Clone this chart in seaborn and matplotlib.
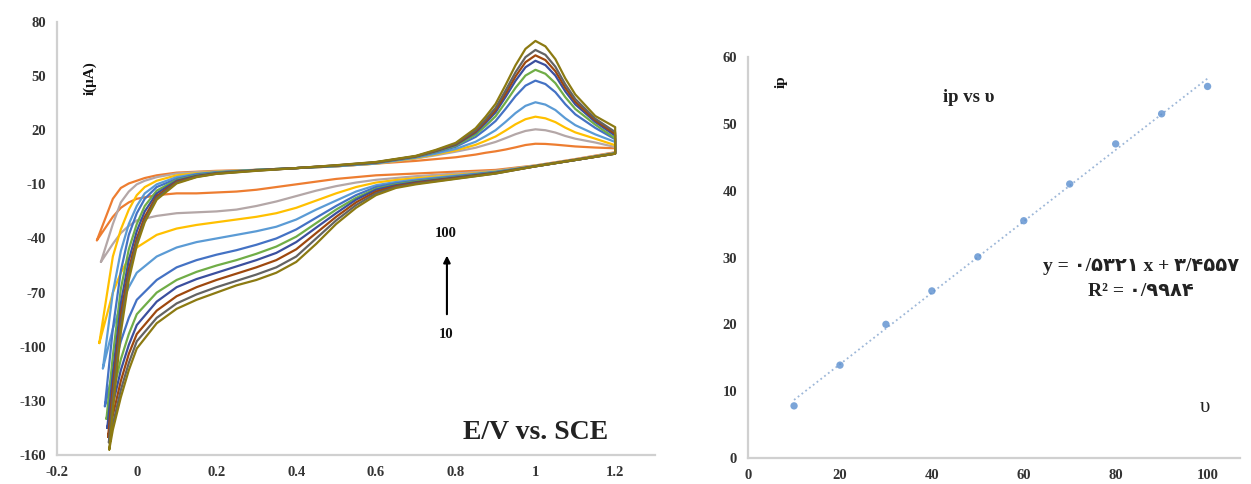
import numpy as np
import pandas as pd
import matplotlib
matplotlib.use("Agg")
import matplotlib.pyplot as plt
import seaborn as sns

# ---------------- data ----------------
scan_rates = [10, 20, 30, 40, 50, 60, 70, 80, 90, 100]
curve_colors = ["#ED7D31", "#B4A7A7", "#FFC000", "#5B9BD5", "#4472C4",
                "#70AD47", "#3B4F9E", "#9E480E", "#636363", "#8C7A12"]

vertex_E = [-0.100, -0.090, -0.094, -0.085, -0.080, -0.076, -0.074, -0.072, -0.070, -0.069]
vertex_i = [-41, -53, -98, -112, -133, -140, -145, -150, -153, -157]

fwd_E = [-0.06, -0.04, -0.02, 0.0, 0.02, 0.05, 0.1, 0.15, 0.2, 0.3, 0.4, 0.5, 0.6, 0.7, 0.75,
         0.8, 0.85, 0.875, 0.9, 0.925, 0.95, 0.975, 1.0, 1.025, 1.05, 1.075, 1.1, 1.15, 1.2]
fwd_010 = [-18, -12, -9.5, -8, -6.5, -5, -3.5, -3, -2.5, -2, -1, 0, 1.5,
           3, 4, 5, 6.5, 7.5, 8.3, 9.3, 10.5, 11.8, 12.5, 12.4, 12, 11.5, 11, 10.4, 10]
fwd_020 = [-32, -20, -14, -10, -8, -6, -4, -3.2, -2.8, -2, -1, 0, 1.5,
           4.3, 6.1, 8.1, 10.3, 11.9, 13.5, 15.6, 17.8, 19.6, 20.5, 20, 18.7, 16.8, 15.3, 13.2, 10.7]
fwd_030 = [-50, -35, -24, -16, -11.5, -8, -5, -3.8, -3, -2, -1, 0, 1.5,
           4.5, 6.6, 8.8, 11.9, 14.1, 16.5, 19.8, 23.3, 26.1, 27.5, 26.6, 24.5, 21.4, 18.8, 15.3, 11.7]
fwd_040 = [-70, -47, -32, -22, -15, -10, -6, -4.2, -3.2, -2, -1, 0, 1.6,
           4.8, 7, 9.6, 13.6, 16.7, 20, 24.6, 29.5, 33.5, 35.5, 34.2, 31.2, 26.6, 22.8, 17.7, 13.5]
fwd_050 = [-90, -58, -38, -26, -18, -11.5, -7, -4.5, -3.4, -2, -1, 0.2, 1.8,
           5.1, 7.8, 10.8, 16.3, 20.5, 25.1, 31.8, 38.9, 44.7, 47.5, 45.6, 41.1, 34.4, 28.8, 21.3, 15]
fwd_060 = [-105, -68, -46, -32, -22, -13.5, -7.5, -5, -3.6, -2, -1, 0.3, 2,
           5.3, 8.1, 11.4, 17.6, 22.4, 27.7, 35.4, 43.5, 50.3, 53.5, 51.3, 46.1, 38.3, 31.8, 23.1, 15.5]
fwd_070 = [-115, -76, -52, -36, -25, -15, -8, -5.3, -3.8, -2.2, -1, 0.4, 2.1,
           5.5, 8.4, 11.9, 18.7, 24, 29.9, 38.4, 47.4, 54.9, 58.5, 56.1, 50.3, 41.5, 34.3, 24.6, 17]
fwd_080 = [-122, -82, -57, -40, -28, -16.5, -8.5, -5.6, -4, -2.3, -1, 0.5, 2.2,
           5.5, 8.6, 12.2, 19.3, 25, 31.1, 40.2, 49.8, 57.7, 61.5, 58.9, 52.7, 43.5, 35.8, 25.5, 18]
fwd_090 = [-128, -87, -60, -42, -30, -17.5, -9, -5.8, -4.1, -2.4, -1, 0.5, 2.3,
           5.6, 8.8, 12.5, 20, 25.9, 32.4, 42, 52.1, 60.5, 64.5, 61.8, 55.2, 45.4, 37.3, 26.4, 19]
fwd_100 = [-135, -92, -63, -44, -31, -18.5, -9.5, -6, -4.2, -2.5, -1, 0.6, 2.4,
           5.8, 9.1, 13, 21.1, 27.5, 34.6, 45, 56, 65.1, 69.5, 66.5, 59.4, 48.7, 39.8, 27.9, 21.7]

rev_E = [1.2, 1.1, 1.0, 0.9, 0.8, 0.7, 0.65, 0.6, 0.55, 0.5, 0.45, 0.4, 0.35, 0.3,
         0.25, 0.2, 0.15, 0.1, 0.05, 0.0, -0.02, -0.04, -0.06]
rev_010 = [7.8, 4, 0.5, -2, -3, -4, -4.5, -5, -6, -7, -8.5, -10, -11.5, -13, -14, -14.5, -15, -15, -16, -18, -20, -23, -28]
rev_020 = [7.6, 3.8, 0.4, -2.5, -4, -5.5, -6.5, -7.5, -9, -11, -13.5, -16.5, -19.5, -22, -24, -25, -25.5, -26, -27.5, -30, -33, -37, -43]
rev_030 = [7.4, 3.7, 0.3, -2.8, -4.8, -6.6, -7.6, -9, -11.5, -15, -19, -23, -26, -28, -29.5, -31, -32.5, -34.5, -38, -45, -51, -59, -70]
rev_040 = [7.3, 3.6, 0.2, -3, -5.2, -7.4, -8.7, -10.5, -14, -19, -24, -29.5, -33.5, -36, -38, -40, -42, -45, -50, -59, -67, -77, -90]
rev_050 = [7.2, 3.5, 0.1, -3.2, -5.6, -8, -9.5, -11.5, -16, -22, -28.5, -35, -40, -43.5, -46.5, -49, -52, -56, -63, -74, -84, -97, -114]
rev_060 = [7.1, 3.5, 0.0, -3.4, -6, -8.4, -10, -12.5, -17.5, -24, -31.5, -39, -44.5, -48.5, -52, -55, -58.5, -63, -70, -82, -93, -107, -126]
rev_070 = [7.0, 3.5, 0.0, -3.6, -6.2, -8.8, -10.5, -13, -18.5, -26, -34, -42, -48, -52, -55.5, -59, -62.5, -67, -75, -88, -99, -113, -132]
rev_080 = [7.0, 3.5, 0.0, -3.8, -6.5, -9.2, -11, -14, -20, -28, -37, -46, -52, -56, -59.5, -63, -67, -72, -80, -93, -104, -119, -138]
rev_090 = [7.0, 3.5, 0.0, -4, -6.8, -9.6, -11.5, -15, -21.5, -30, -40, -50, -56, -60, -63.5, -67, -71, -76, -84, -97, -109, -124, -143]
rev_100 = [7.0, 3.5, 0.0, -4, -7, -10, -12, -16, -23, -32, -43, -53, -59, -63, -66, -70, -74, -79, -87, -101, -113, -128, -146]

# calibration plot (ip vs scan rate)
rate_x = [10, 20, 30, 40, 50, 60, 70, 80, 90, 100]
ip_y = [7.8, 13.9, 20.0, 25.0, 30.1, 35.5, 41.0, 47.0, 51.5, 55.6]

x_ticks_left = [-0.2, 0, 0.2, 0.4, 0.6, 0.8, 1, 1.2]
x_ticklabels_left = ["-0.2", "0", "0.2", "0.4", "0.6", "0.8", "1", "1.2"]
y_ticks_left = [-160, -130, -100, -70, -40, -10, 20, 50, 80]
x_ticks_right = [0, 20, 40, 60, 80, 100]
y_ticks_right = [0, 10, 20, 30, 40, 50, 60]

eq_line1 = "y = ۰/۵۳۲۱ x + ۳/۴۵۵۷"
eq_line2 = "R² = ۰/۹۹۸۴"

# ---------------- build long table ----------------
fwd_all = [fwd_010, fwd_020, fwd_030, fwd_040, fwd_050, fwd_060, fwd_070, fwd_080, fwd_090, fwd_100]
rev_all = [rev_010, rev_020, rev_030, rev_040, rev_050, rev_060, rev_070, rev_080, rev_090, rev_100]
rows = []
for k, r in enumerate(scan_rates):
    Es = [vertex_E[k]] + fwd_E + rev_E + [vertex_E[k]]
    Is = [vertex_i[k]] + fwd_all[k] + rev_all[k] + [vertex_i[k]]
    for j, (e, i) in enumerate(zip(Es, Is)):
        rows.append((r, j, e, i))
cv = pd.DataFrame(rows, columns=["rate", "step", "E", "i"])

# ---------------- figure ----------------
sns.set_theme(style="white")
plt.rcParams["font.family"] = ["Liberation Serif", "DejaVu Sans"]
plt.rcParams["font.weight"] = "bold"
plt.rcParams["axes.unicode_minus"] = False

fig = plt.figure(figsize=(12.51, 4.84), dpi=100)
ax1 = fig.add_axes([0.0456, 0.060, 0.478, 0.8946])
ax2 = fig.add_axes([0.598, 0.0537, 0.393, 0.8285])

tick_color = "#333333"
spine_color = "#D0D0D0"

sns.lineplot(data=cv, x="E", y="i", hue="rate", palette=curve_colors, sort=False,
             estimator=None, linewidth=1.6, legend=False, ax=ax1)
ax1.set_xlim(-0.2, 1.3)
ax1.set_ylim(-160, 80)
ax1.set_xticks(x_ticks_left)
ax1.set_xticklabels(x_ticklabels_left)
ax1.set_yticks(y_ticks_left)
ax1.set_xlabel("")
ax1.set_ylabel("")

ax1.text(-0.117, 49, "i(μA)", rotation=90, ha="center", va="center",
         fontsize=11, fontweight="bold", color="#111111")
ax1.text(1.0, -147.5, "E/V vs. SCE", ha="center", va="center", fontsize=20,
         fontweight="bold", color="#222222")
ax1.text(0.776, -37.5, "100", ha="center", va="center", fontsize=10.5,
         fontweight="bold", color="#111111")
ax1.text(0.776, -93, "10", ha="center", va="center", fontsize=10.5,
         fontweight="bold", color="#111111")
ax1.annotate("", xy=(0.778, -49.5), xytext=(0.778, -82),
             arrowprops=dict(arrowstyle="-|>", color="black", lw=1.5,
                             mutation_scale=10, shrinkA=0, shrinkB=0))

sns.regplot(x=rate_x, y=ip_y, ci=None, ax=ax2,
            scatter_kws=dict(s=28, color="#5B8FCF", edgecolor="none", zorder=3),
            line_kws=dict(color="#9DB7D8", linestyle=":", linewidth=1.3, zorder=2))
ax2.set_xlim(0, 107)
ax2.set_ylim(0, 60)
ax2.set_xticks(x_ticks_right)
ax2.set_yticks(y_ticks_right)
ax2.set_xlabel("")
ax2.set_ylabel("")

ax2.text(7.2, 56.3, "ip", rotation=90, ha="center", va="center",
         fontsize=11, fontweight="bold", color="#111111")
ax2.text(48.1, 54.0, "ip vs υ", ha="center", va="center", fontsize=13.5,
         fontweight="bold", color="#222222")
ax2.text(85.5, 28.6, eq_line1, ha="center", va="center", fontsize=14,
         fontweight="bold", color="#222222")
ax2.text(85.5, 24.85, eq_line2, ha="center", va="center", fontsize=14,
         fontweight="bold", color="#222222")
ax2.text(99.5, 7.5, "υ", ha="center", va="center", fontsize=15,
         fontweight="normal", color="#222222")

for ax in (ax1, ax2):
    for side in ("top", "right"):
        ax.spines[side].set_visible(False)
    for side in ("left", "bottom"):
        ax.spines[side].set_color(spine_color)
        ax.spines[side].set_linewidth(1.6)
    ax.tick_params(axis="both", length=0, labelsize=10.5, colors=tick_color, pad=8)
    for lab in ax.get_xticklabels() + ax.get_yticklabels():
        lab.set_fontweight("bold")

fig.savefig("out.png", dpi=100, facecolor="white")
